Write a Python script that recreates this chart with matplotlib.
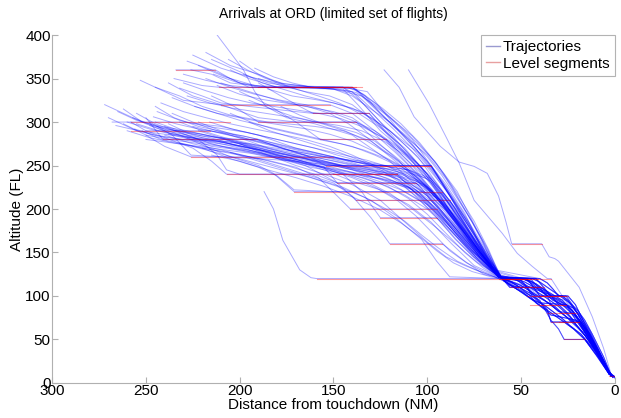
import matplotlib
matplotlib.use("Agg")
import matplotlib.pyplot as plt

plt.rcParams['font.family'] = ['Liberation Sans', 'DejaVu Sans']

# --- data: (distance NM, altitude FL) waypoints ---

# upper group (cruise ~340-380 before descending)
u1 = [(234, 360), (213, 360), (205, 350), (195, 340), (150, 340), (138, 338), (120, 300), (100, 255), (80, 190), (66, 140), (60, 120)]
u2 = [(225, 377), (210, 362), (195, 352), (180, 345), (160, 340), (140, 335), (125, 300), (105, 260), (85, 200), (70, 150), (60, 120)]
u3 = [(218, 380), (205, 365), (190, 355), (175, 342), (145, 340), (132, 335), (115, 290), (98, 250), (82, 200), (68, 150), (60, 120)]
u4 = [(253, 348), (240, 335), (230, 325), (210, 320), (152, 320), (140, 310), (125, 285), (105, 240), (88, 195), (72, 150), (60, 120)]
u5 = [(232, 339), (220, 330), (210, 322), (195, 318), (170, 312), (161, 310), (131, 310), (115, 270), (97, 230), (80, 180), (66, 135), (60, 120)]
u6 = [(212, 400), (205, 380), (198, 360), (192, 335), (186, 318), (175, 305), (160, 298), (140, 285), (120, 255), (100, 215), (80, 165), (62, 122)]
u7 = [(228, 370), (215, 360), (200, 345), (185, 340), (150, 338), (135, 330), (118, 295), (100, 262), (90, 235), (76, 185), (62, 125)]
u8 = [(222, 365), (208, 352), (192, 342), (170, 340), (140, 340), (128, 322), (112, 290), (96, 255), (84, 220), (72, 170), (60, 120)]
u9 = [(215, 372), (200, 358), (188, 345), (165, 330), (150, 322), (135, 312), (120, 290), (105, 265), (92, 230), (78, 185), (64, 130)]
u10 = [(238, 345), (225, 330), (210, 320), (190, 305), (170, 300), (150, 300), (138, 300), (122, 280), (108, 250), (95, 215), (80, 175), (65, 130)]
u11 = [(205, 360), (195, 350), (180, 340), (140, 340), (133, 330), (125, 310), (110, 280), (95, 240), (85, 205), (75, 170), (63, 125)]
u12 = [(245, 340), (232, 330), (220, 318), (205, 308), (185, 300), (160, 295), (145, 290), (130, 278), (115, 255), (100, 225), (85, 185), (70, 145), (60, 120)]
u13 = [(198, 355), (185, 345), (170, 340), (145, 340), (136, 325), (125, 300), (112, 268), (100, 240), (88, 210), (76, 170), (62, 123)]
u14 = [(210, 345), (195, 335), (180, 325), (165, 318), (150, 312), (140, 305), (130, 290), (117, 265), (103, 235), (92, 210), (80, 175), (68, 140), (60, 120)]
u15 = [(235, 350), (220, 342), (211, 340), (170, 340), (145, 338), (137, 320), (125, 290), (110, 262), (97, 235), (85, 200), (74, 160), (62, 122)]
u16 = [(200, 370), (190, 355), (180, 345), (170, 338), (158, 330), (147, 322), (138, 312), (126, 295), (112, 270), (100, 240), (90, 205), (78, 165), (62, 122)]
u17 = [(190, 350), (178, 342), (165, 335), (152, 330), (140, 320), (128, 300), (115, 275), (104, 250), (95, 220), (82, 180), (68, 140), (60, 120)]
u18 = [(226, 360), (215, 355), (205, 345), (185, 340), (150, 340), (140, 340), (132, 325), (120, 305), (108, 280), (98, 250), (88, 215), (75, 170), (62, 122)]
x5 = [(218, 350), (205, 340), (192, 332), (178, 325), (165, 320), (152, 312), (140, 302), (128, 290), (116, 272), (104, 250), (94, 225), (84, 195), (74, 162), (64, 130), (60, 120)]
x6 = [(230, 355), (218, 348), (205, 342), (195, 340), (160, 340), (145, 340), (138, 332), (128, 312), (118, 292), (108, 270), (98, 245), (88, 215), (78, 180), (68, 145), (60, 120)]
x7 = [(212, 342), (200, 332), (188, 326), (176, 322), (164, 318), (152, 310), (142, 298), (132, 282), (122, 264), (112, 246), (102, 228), (92, 205), (82, 175), (72, 145), (62, 122)]
x8 = [(185, 338), (172, 330), (160, 326), (150, 322), (140, 316), (130, 305), (120, 290), (110, 270), (100, 248), (90, 222), (80, 190), (70, 155), (60, 120)]
x12 = [(195, 325), (183, 315), (171, 306), (159, 300), (147, 296), (135, 290), (123, 278), (112, 262), (102, 242), (93, 220), (84, 194), (75, 165), (66, 138), (60, 120)]
x13 = [(178, 318), (168, 308), (158, 300), (148, 294), (138, 288), (128, 278), (118, 262), (108, 244), (98, 222), (89, 198), (80, 170), (70, 142), (60, 120)]
x14 = [(236, 328), (224, 318), (212, 310), (200, 305), (188, 300), (176, 296), (164, 292), (152, 286), (140, 278), (128, 266), (116, 252), (105, 236), (95, 215), (86, 190), (77, 162), (68, 138), (60, 120)]
y3 = [(214, 355), (202, 346), (190, 340), (165, 340), (150, 338), (140, 330), (130, 315), (120, 300), (110, 282), (100, 260), (92, 238), (84, 212), (76, 185), (68, 155), (62, 125)]
y5 = [(228, 330), (216, 322), (204, 316), (192, 312), (180, 308), (168, 304), (156, 298), (144, 290), (132, 278), (120, 262), (108, 242), (97, 218), (87, 192), (77, 165), (68, 140), (60, 120)]
y7 = [(206, 372), (196, 360), (186, 350), (176, 344), (160, 340), (142, 340), (134, 332), (124, 316), (114, 298), (104, 276), (95, 252), (87, 226), (79, 196), (71, 165), (63, 128)]
y11 = [(192, 362), (182, 352), (172, 345), (162, 340), (148, 338), (138, 334), (128, 320), (118, 302), (108, 284), (99, 262), (91, 240), (83, 214), (75, 186), (67, 152), (61, 122)]
y14 = [(230, 345), (218, 336), (206, 328), (194, 322), (182, 318), (170, 314), (158, 310), (146, 304), (134, 294), (122, 280), (111, 262), (101, 242), (92, 220), (83, 196), (74, 168), (66, 140), (60, 120)]

# middle band (starting ~280-320 far out, slow descent)
m1 = [(272, 320), (262, 310), (250, 298), (240, 290), (220, 282), (200, 275), (180, 265), (160, 255), (140, 245), (120, 230), (100, 205), (85, 170), (72, 140), (60, 120)]
m2 = [(268, 300), (258, 300), (230, 300), (210, 295), (190, 285), (170, 270), (150, 260), (130, 250), (115, 240), (100, 215), (85, 180), (70, 140), (60, 120)]
m3 = [(258, 300), (250, 290), (216, 290), (205, 285), (190, 278), (170, 268), (150, 258), (126, 250), (98, 250), (88, 215), (75, 165), (62, 122)]
m4 = [(255, 310), (245, 298), (235, 290), (220, 284), (200, 280), (191, 280), (175, 268), (160, 262), (140, 252), (120, 240), (100, 210), (85, 175), (70, 140), (60, 120)]
m5 = [(250, 305), (241, 280), (191, 280), (180, 272), (165, 262), (150, 255), (130, 245), (116, 240), (105, 215), (90, 185), (75, 150), (62, 122)]
m6 = [(262, 315), (252, 300), (240, 292), (225, 288), (212, 282), (195, 272), (180, 262), (162, 255), (145, 248), (125, 238), (105, 220), (90, 190), (75, 155), (60, 120)]
m7 = [(245, 318), (235, 305), (222, 295), (207, 288), (190, 280), (172, 270), (155, 262), (140, 255), (125, 250), (110, 245), (98, 235), (88, 205), (75, 165), (62, 122)]
m8 = [(262, 298), (250, 285), (240, 272), (226, 260), (200, 260), (180, 260), (150, 260), (135, 250), (125, 250), (110, 245), (98, 232), (88, 205), (76, 165), (62, 122)]
m9 = [(248, 300), (236, 285), (226, 262), (210, 260), (190, 258), (170, 255), (150, 250), (130, 240), (116, 240), (100, 215), (86, 180), (72, 145), (60, 120)]
m10 = [(236, 310), (225, 300), (215, 292), (205, 285), (195, 278), (185, 270), (170, 262), (154, 250), (125, 250), (98, 250), (90, 225), (80, 190), (68, 145), (60, 120)]
m11 = [(250, 290), (240, 282), (225, 270), (215, 255), (207, 240), (180, 240), (150, 240), (125, 240), (116, 238), (105, 220), (92, 190), (78, 155), (62, 122)]
m12 = [(244, 295), (232, 285), (218, 272), (205, 260), (190, 250), (182, 241), (171, 220), (140, 220), (110, 220), (92, 218), (84, 190), (75, 160), (62, 122)]
m13 = [(238, 298), (228, 288), (212, 280), (198, 270), (185, 262), (170, 255), (155, 248), (148, 230), (120, 230), (106, 230), (95, 205), (82, 170), (70, 140), (60, 120)]
m14 = [(252, 290), (242, 280), (230, 275), (215, 268), (200, 262), (185, 256), (170, 248), (158, 236), (148, 215), (141, 200), (120, 200), (95, 200), (86, 175), (74, 145), (62, 122)]
m15 = [(260, 290), (248, 282), (235, 276), (220, 270), (205, 265), (190, 258), (175, 250), (160, 240), (148, 230), (138, 210), (110, 210), (88, 210), (78, 175), (68, 145), (60, 120)]
m16 = [(245, 300), (232, 290), (220, 282), (205, 275), (190, 268), (175, 258), (160, 250), (145, 240), (135, 220), (125, 190), (95, 190), (85, 165), (72, 138), (60, 120)]
m17 = [(240, 285), (225, 275), (210, 268), (195, 260), (180, 250), (165, 240), (150, 230), (140, 215), (130, 190), (120, 160), (92, 160), (80, 140), (70, 125), (60, 120)]
m18 = [(255, 298), (243, 290), (228, 283), (212, 276), (196, 268), (180, 260), (165, 250), (148, 230), (130, 230), (106, 230), (95, 205), (82, 170), (70, 140), (60, 120)]
m19 = [(222, 300), (210, 290), (195, 280), (180, 272), (165, 262), (154, 250), (125, 250), (98, 250), (90, 228), (80, 195), (70, 150), (62, 122)]
m20 = [(200, 335), (185, 320), (170, 300), (157, 280), (122, 280), (110, 255), (98, 230), (86, 195), (74, 160), (62, 122)]
m21 = [(190, 345), (178, 330), (168, 318), (161, 310), (131, 310), (120, 285), (108, 255), (95, 220), (82, 180), (70, 145), (60, 120)]
m22 = [(215, 330), (203, 318), (190, 300), (150, 300), (138, 300), (128, 280), (115, 255), (102, 225), (90, 195), (77, 160), (62, 122)]
m23 = [(235, 290), (222, 280), (212, 262), (207, 245), (200, 240), (150, 240), (140, 240), (125, 235), (112, 225), (100, 205), (88, 180), (75, 150), (60, 120)]
m24 = [(270, 305), (255, 290), (245, 285), (230, 280), (210, 278), (195, 275), (175, 268), (160, 258), (145, 250), (130, 248), (115, 245), (100, 235), (90, 210), (80, 180), (68, 140), (60, 120)]
m25 = [(225, 295), (212, 288), (200, 282), (187, 275), (174, 268), (160, 262), (148, 258), (135, 255), (122, 250), (110, 240), (98, 222), (87, 195), (76, 160), (62, 122)]
m26 = [(248, 296), (237, 287), (224, 282), (212, 278), (199, 272), (186, 265), (172, 258), (158, 250), (146, 242), (133, 232), (120, 218), (108, 200), (96, 180), (85, 160), (73, 138), (60, 120)]
m27 = [(220, 270), (205, 258), (190, 248), (180, 238), (171, 222), (150, 220), (120, 220), (102, 220), (92, 210), (83, 185), (72, 150), (60, 120)]
m28 = [(205, 265), (190, 255), (175, 245), (160, 235), (145, 225), (130, 210), (117, 190), (103, 165), (95, 140), (88, 122), (60, 120)]
m29 = [(200, 275), (185, 262), (170, 250), (155, 240), (140, 228), (125, 210), (112, 185), (100, 162), (90, 145), (80, 135), (72, 128), (64, 122)]
m30 = [(228, 282), (215, 272), (200, 268), (185, 262), (170, 255), (155, 245), (140, 232), (125, 222), (110, 205), (98, 185), (87, 160), (75, 135), (62, 122)]
x1 = [(265, 312), (255, 302), (242, 295), (228, 290), (214, 283), (200, 276), (186, 268), (172, 262), (158, 256), (144, 250), (130, 245), (116, 235), (104, 215), (92, 190), (80, 160), (68, 135), (60, 120)]
x2 = [(257, 305), (246, 296), (234, 290), (220, 286), (206, 280), (192, 272), (178, 264), (164, 258), (150, 252), (136, 244), (122, 236), (110, 225), (98, 205), (86, 178), (74, 148), (62, 122)]
x3 = [(232, 300), (220, 290), (208, 282), (196, 276), (184, 270), (170, 264), (156, 258), (142, 252), (128, 246), (114, 240), (102, 228), (92, 205), (82, 178), (71, 145), (60, 120)]
x4 = [(240, 295), (228, 285), (215, 275), (202, 268), (188, 262), (174, 256), (160, 250), (146, 244), (132, 238), (120, 232), (108, 222), (97, 200), (86, 172), (75, 145), (62, 122)]
x9 = [(250, 285), (238, 280), (224, 276), (210, 272), (196, 268), (182, 262), (168, 256), (154, 250), (140, 242), (126, 232), (114, 222), (103, 208), (94, 190), (84, 168), (74, 145), (62, 122)]
x10 = [(222, 290), (210, 282), (198, 276), (186, 270), (174, 264), (160, 258), (146, 250), (132, 245), (118, 240), (106, 232), (96, 218), (88, 196), (79, 170), (70, 145), (60, 120)]
x11 = [(205, 310), (194, 300), (182, 292), (170, 286), (158, 280), (146, 275), (134, 268), (122, 258), (110, 244), (100, 226), (90, 203), (80, 175), (70, 145), (60, 120)]
x15 = [(244, 312), (232, 302), (220, 296), (208, 292), (196, 288), (184, 282), (172, 276), (160, 270), (148, 262), (136, 255), (124, 248), (112, 240), (101, 226), (92, 205), (83, 178), (73, 148), (62, 122)]
y1 = [(242, 322), (230, 312), (218, 305), (205, 298), (192, 292), (178, 286), (165, 280), (152, 272), (140, 262), (128, 250), (116, 238), (106, 222), (96, 202), (86, 178), (76, 152), (66, 132), (60, 120)]
y2 = [(260, 300), (248, 292), (236, 286), (222, 280), (208, 276), (194, 270), (180, 264), (166, 258), (152, 252), (138, 246), (124, 240), (112, 232), (100, 218), (90, 198), (80, 172), (70, 145), (62, 122)]
y4 = [(250, 280), (236, 276), (222, 272), (208, 268), (194, 264), (180, 258), (166, 252), (152, 246), (138, 238), (124, 228), (112, 216), (100, 200), (90, 180), (80, 158), (70, 135), (60, 120)]
y6 = [(266, 296), (254, 290), (240, 286), (226, 282), (212, 278), (198, 272), (184, 266), (170, 260), (156, 254), (142, 248), (128, 242), (114, 236), (102, 226), (92, 208), (82, 182), (72, 152), (62, 122)]
y8 = [(238, 286), (226, 280), (214, 276), (200, 272), (186, 266), (172, 258), (158, 250), (144, 244), (130, 238), (118, 232), (106, 222), (96, 206), (87, 186), (78, 163), (69, 140), (60, 120)]
y9 = [(256, 292), (244, 284), (232, 280), (218, 276), (204, 270), (190, 264), (176, 256), (162, 248), (148, 242), (134, 236), (121, 226), (110, 212), (100, 194), (90, 172), (80, 150), (70, 132), (62, 122)]
y10 = [(224, 318), (212, 310), (200, 302), (188, 296), (176, 290), (164, 284), (152, 278), (140, 272), (128, 262), (116, 250), (105, 232), (95, 212), (85, 186), (76, 160), (67, 136), (60, 120)]
y12 = [(246, 306), (234, 298), (222, 292), (210, 288), (198, 284), (186, 278), (174, 272), (162, 266), (150, 260), (138, 254), (126, 248), (114, 242), (104, 232), (95, 216), (86, 194), (77, 168), (68, 142), (60, 120)]
y13 = [(216, 300), (204, 292), (192, 286), (180, 280), (168, 274), (156, 268), (144, 262), (132, 256), (120, 248), (110, 236), (100, 220), (91, 200), (82, 176), (73, 150), (64, 128)]
# lower part of the funnel
z1 = [(215, 262), (200, 255), (185, 245), (170, 236), (155, 226), (140, 214), (126, 200), (114, 184), (104, 168), (95, 152), (86, 138), (76, 128), (66, 122), (60, 120)]
z2 = [(232, 276), (218, 268), (204, 260), (190, 252), (176, 244), (162, 236), (148, 226), (134, 214), (122, 200), (112, 186), (103, 170), (94, 155), (84, 140), (74, 130), (64, 122)]
z3 = [(210, 282), (196, 272), (182, 264), (168, 256), (154, 246), (140, 236), (127, 224), (116, 210), (106, 192), (97, 172), (88, 152), (79, 138), (70, 128), (60, 120)]
z4 = [(195, 300), (184, 290), (172, 282), (160, 274), (148, 266), (136, 256), (124, 244), (113, 228), (103, 208), (94, 188), (85, 166), (76, 146), (67, 130), (60, 120)]

# final approach tails after ~60 NM / FL120
tails = {
    'A': [(55, 120), (50, 116), (44, 108), (38, 100), (30, 88), (24, 76), (16, 55), (8, 30), (3, 10), (1, 7)],
    'B': [(50, 120), (45, 117), (40, 110), (35, 104), (28, 95), (22, 82), (15, 60), (8, 33), (3, 10), (1, 7)],
    'C': [(56, 112), (50, 110), (40, 110), (38, 104), (32, 100), (26, 100), (22, 88), (14, 58), (7, 28), (2, 8), (0, 7)],
    'D': [(47, 120), (44, 112), (40, 100), (28, 100), (25, 95), (20, 80), (13, 55), (6, 26), (2, 8)],
    'E': [(52, 118), (47, 110), (44, 100), (40, 92), (26, 90), (22, 80), (15, 58), (7, 28), (2, 8)],
    'F': [(58, 118), (52, 112), (45, 100), (42, 92), (36, 82), (34, 78), (20, 72), (16, 58), (8, 30), (2, 8)],
    'G': [(45, 120), (41, 110), (36, 100), (34, 90), (30, 82), (22, 80), (18, 70), (12, 48), (5, 20), (1, 7)],
    'H': [(42, 120), (38, 110), (34, 100), (30, 90), (26, 82), (22, 72), (19, 70), (13, 50), (6, 24), (2, 8)],
    'I': [(54, 112), (48, 104), (40, 95), (34, 72), (30, 62), (27, 50), (16, 50), (10, 32), (3, 10), (0, 7)],
    'J': [(40, 120), (36, 115), (33, 108), (30, 100), (25, 100), (21, 90), (16, 68), (10, 42), (4, 16), (1, 7)],
    'K': [(56, 110), (45, 110), (38, 104), (33, 95), (28, 90), (25, 86), (20, 70), (14, 52), (7, 28), (2, 8)],
    'L': [(50, 118), (46, 108), (42, 98), (36, 84), (34, 70), (19, 70), (15, 55), (9, 34), (3, 11), (0, 7)],
    'M': [(57, 118), (50, 112), (44, 104), (38, 96), (32, 86), (27, 78), (22, 70), (17, 58), (10, 36), (4, 14), (1, 7)],
    'N': [(53, 120), (48, 116), (43, 110), (38, 106), (33, 98), (28, 92), (23, 84), (18, 70), (11, 44), (5, 18), (1, 7)],
    'O': [(58, 116), (54, 110), (49, 104), (44, 96), (38, 90), (33, 82), (28, 74), (24, 66), (18, 56), (11, 38), (4, 14), (0, 7)],
    'P': [(49, 120), (44, 114), (40, 106), (36, 100), (31, 94), (27, 88), (23, 80), (19, 72), (14, 58), (8, 34), (2, 9)],
    'Q': [(55, 116), (51, 110), (46, 104), (42, 100), (37, 94), (32, 88), (28, 80), (24, 72), (20, 64), (14, 50), (7, 26), (2, 8)],
    'R': [(44, 120), (40, 116), (36, 110), (32, 104), (28, 98), (24, 92), (20, 84), (16, 72), (12, 56), (6, 30), (2, 9)],
    'S': [(59, 117), (55, 112), (51, 106), (47, 100), (43, 94), (39, 88), (35, 82), (31, 76), (27, 70), (22, 62), (16, 50), (9, 30), (3, 10), (0, 7)],
    'T': [(51, 120), (46, 118), (42, 114), (38, 108), (34, 100), (30, 96), (26, 90), (22, 86), (18, 76), (14, 62), (9, 40), (3, 12), (1, 7)],
}

flights = [
    (u1, 'A'), (u2, 'M'), (u3, 'C'), (u4, 'N'), (u5, 'E'), (u6, 'F'), (u7, 'O'), (u8, 'H'),
    (u9, 'J'), (u10, 'P'), (u11, 'L'), (u12, 'Q'), (u13, 'B'), (u14, 'D'), (u15, 'R'), (u16, 'G'),
    (u17, 'S'), (u18, 'J'), (x5, 'T'), (x6, 'K'), (x7, 'F'), (x8, 'L'), (x12, 'M'), (x13, 'D'), (x14, 'G'),
    (y3, 'E'), (y5, 'N'), (y7, 'C'), (y11, 'O'), (y14, 'K'),
    (m1, 'B'), (m2, 'P'), (m3, 'D'), (m4, 'Q'), (m5, 'F'), (m6, 'R'), (m7, 'H'), (m8, 'S'),
    (m9, 'K'), (m10, 'T'), (m11, 'A'), (m12, 'B'), (m13, 'C'), (m14, 'M'), (m15, 'E'), (m16, 'N'),
    (m17, 'I'), (m18, 'O'), (m19, 'H'), (m20, 'J'), (m21, 'P'), (m22, 'L'), (m23, 'Q'), (m24, 'B'),
    (m25, 'R'), (m26, 'D'), (m27, 'S'), (m28, 'F'), (m29, 'I'), (m30, 'T'),
    (x1, 'H'), (x2, 'J'), (x3, 'K'), (x4, 'L'), (x9, 'A'), (x10, 'E'), (x11, 'D'), (x15, 'M'),
    (y1, 'N'), (y2, 'O'), (y4, 'A'), (y6, 'P'), (y8, 'G'), (y9, 'Q'), (y10, 'R'), (y12, 'S'), (y13, 'T'),
    (z1, 'I'), (z2, 'O'), (z3, 'S'), (z4, 'M'),
]

# odd ones that don't follow the main stream
lone_p = [(123, 360), (115, 340), (107, 306), (93, 272), (83, 254), (75, 249), (68, 241), (62, 215), (58, 185), (55, 160),
          (39, 160), (35, 145), (32, 143), (30, 140), (19, 110), (12, 76), (6, 40), (2, 10), (0, 5)]
lone_q = [(110, 360), (99, 321), (90, 283), (83, 253), (75, 210), (60, 172), (52, 149), (44, 134), (36, 120), (34, 120),
          (28, 100), (20, 75), (12, 45), (5, 20), (1, 6)]
lone_r = [(187, 220), (182, 200), (177, 164), (168, 130), (162, 121), (159, 120), (60, 120), (48, 112), (40, 100), (26, 95),
          (20, 80), (12, 48), (2, 8)]

# level segments: (from NM, to NM, FL)
levels = [
    (234, 213, 360), (211, 135, 340), (190, 140, 340), (170, 138, 340), (210, 152, 320), (161, 131, 310),
    (258, 205, 300), (190, 138, 300), (258, 216, 290), (241, 191, 280), (157, 122, 280),
    (226, 150, 260), (154, 98, 250), (125, 98, 250), (207, 116, 240), (150, 116, 240), (148, 106, 230),
    (171, 92, 220), (138, 88, 210), (141, 95, 200), (125, 95, 190), (120, 92, 160),
    (159, 34, 120), (62, 41, 120), (60, 45, 120), (58, 47, 120), (55, 39, 160),
    (56, 38, 110), (52, 40, 110), (47, 25, 100), (44, 28, 100), (40, 26, 100), (45, 26, 90), (40, 26, 90),
    (36, 20, 80), (30, 22, 80), (34, 19, 70), (30, 19, 70), (27, 16, 50), (3, 0, 8),
]

# --- plot ---
fig = plt.figure(figsize=(6.21, 4.18), dpi=100)
ax = fig.add_axes([0.084, 0.084, 0.906, 0.832])

traj_style = dict(color='blue', lw=0.7, alpha=0.33)
for head, t in flights:
    pts = head + tails[t]
    xs, ys = zip(*pts)
    ax.plot(xs, ys, **traj_style)
for line in (lone_p, lone_q, lone_r):
    xs, ys = zip(*line)
    ax.plot(xs, ys, **traj_style)

for x0, x1_, fl in levels:
    ax.plot([x0, x1_], [fl, fl], color='red', lw=0.8, alpha=0.38)

# legend proxies
h1, = ax.plot([], [], color='#9a9ad0', lw=1)
h2, = ax.plot([], [], color='#e8a0a0', lw=1)
leg = ax.legend([h1, h2], ['Trajectories', 'Level segments'], loc='upper right',
                bbox_to_anchor=(1.0, 1.0), borderaxespad=0, fancybox=False,
                handlelength=0.9, handletextpad=0.2, borderpad=0.35, labelspacing=0.15,
                fontsize=11)
leg.get_frame().set_edgecolor('#a0a0a0')
leg.get_frame().set_linewidth(0.8)

ax.set_xlim(300, 0)
ax.set_ylim(0, 400)
ax.set_xticks([300, 250, 200, 150, 100, 50, 0])
ax.set_yticks([0, 50, 100, 150, 200, 250, 300, 350, 400])
for s in ('top', 'right'):
    ax.spines[s].set_visible(False)
for s in ('left', 'bottom'):
    ax.spines[s].set_color('#b0b0b0')
ax.tick_params(direction='in', length=4, color='#b0b0b0', labelsize=11, pad=1)

ax.set_title('Arrivals at ORD (limited set of flights)', fontsize=10, pad=12)
ax.set_xlabel('Distance from touchdown (NM)', fontsize=11, labelpad=0)
ax.set_ylabel('Altitude (FL)', fontsize=11, labelpad=1)

fig.savefig('out.png', dpi=100)
